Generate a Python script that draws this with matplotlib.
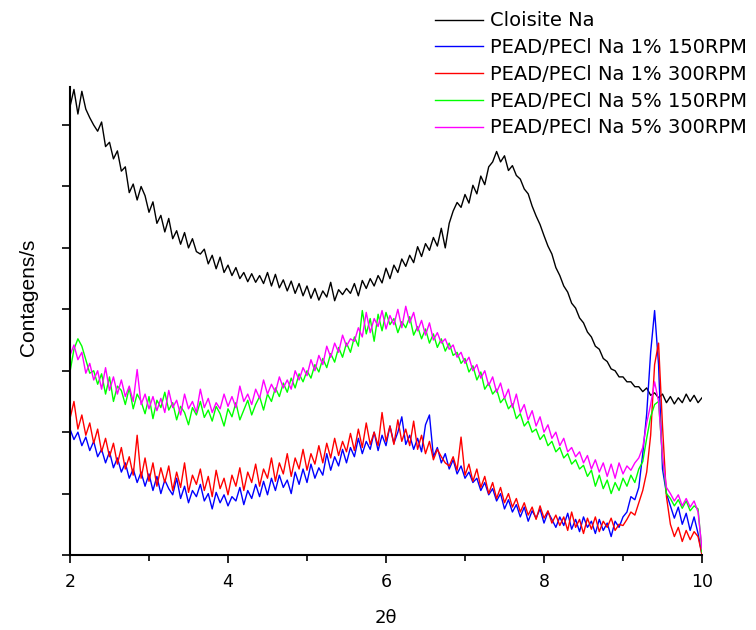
import matplotlib
matplotlib.use('Agg')
import matplotlib.pyplot as plt
import numpy as np

# 2-theta grid (step 0.05) and counts
two_theta = np.round(np.linspace(2, 10, 161), 2)

cloisite_na = [
    730, 758, 718, 755, 726, 712, 700, 690, 705, 665,
    672, 645, 658, 625, 632, 590, 604, 578, 600, 585,
    558, 575, 540, 553, 526, 548, 515, 528, 506, 525,
    500, 515, 494, 490, 498, 474, 488, 466, 485, 460,
    472, 455, 468, 450, 460, 445, 458, 444, 455, 442,
    460, 438, 457, 435, 448, 430, 446, 426, 442, 422,
    438, 418, 434, 415, 430, 420, 444, 414, 432, 424,
    434, 426, 442, 422, 447, 434, 450, 438, 455, 443,
    467, 450, 472, 460, 482, 470, 488, 476, 502, 486,
    507, 496, 517, 503, 532, 500, 540, 560, 574, 566,
    587, 573, 602, 588, 617, 603, 632, 640, 657, 640,
    650, 626, 634, 618, 612, 596, 588, 568, 552, 538,
    520, 503, 490, 468, 455, 438, 428, 410, 402, 386,
    378, 363, 355, 340, 335, 320, 315, 303, 300, 290,
    290, 282, 282, 274, 274, 266, 272, 260, 264, 256,
    262, 248, 258, 246, 256, 248, 262, 250, 260, 248,
    256]

pead_1_150 = [
    205, 188, 200, 178, 192, 170, 185, 160, 172, 150,
    168, 142, 158, 135, 150, 125, 140, 118, 135, 112,
    132, 105, 128, 100, 122, 108, 98, 125, 92, 112,
    85, 105, 95, 115, 88, 100, 75, 102, 85, 98,
    80, 95, 88, 110, 82, 105, 92, 115, 95, 120,
    98, 125, 105, 130, 110, 122, 100, 135, 115, 140,
    118, 148, 125, 142, 130, 165, 138, 160, 145, 172,
    150, 175, 160, 190, 165, 185, 172, 200, 170, 195,
    178, 210, 182, 200, 225, 180, 195, 172, 190, 168,
    212, 228, 160, 175, 150, 165, 140, 155, 132, 145,
    125, 135, 118, 125, 105, 118, 98, 108, 88, 100,
    75, 90, 70, 82, 62, 78, 55, 72, 60, 75,
    52, 70, 58, 45, 62, 48, 68, 42, 58, 38,
    62, 45, 55, 35, 58, 40, 52, 30, 55, 45,
    62, 70, 95, 90, 110, 165, 230, 330, 398, 310,
    140, 100, 80, 60, 78, 50, 68, 40, 62, 35,
    0]

pead_1_300 = [
    222, 250, 205, 228, 195, 215, 182, 205, 168, 190,
    160, 182, 148, 175, 140, 160, 130, 195, 125, 158,
    120, 150, 112, 142, 118, 145, 105, 135, 110, 150,
    102, 130, 115, 140, 105, 128, 95, 138, 108, 125,
    98, 130, 112, 142, 105, 135, 118, 148, 112, 140,
    125, 158, 120, 150, 132, 165, 128, 158, 140, 172,
    138, 165, 148, 178, 150, 182, 158, 190, 162, 185,
    168, 198, 170, 205, 175, 215, 180, 200, 178, 232,
    185, 210, 180, 220, 185, 205, 178, 218, 172, 195,
    165, 185, 155, 172, 160, 150, 145, 160, 138, 192,
    130, 148, 120, 140, 110, 128, 100, 118, 92, 110,
    85, 100, 78, 92, 70, 85, 65, 78, 58, 80,
    60, 72, 52, 65, 48, 62, 40, 70, 45, 58,
    35, 60, 42, 62, 38, 55, 45, 60, 40, 50,
    48, 58, 70, 65, 85, 105, 135, 195, 310, 345,
    210, 95, 50, 30, 45, 22, 40, 25, 38, 30,
    0]

pead_5_150 = [
    298, 335, 352, 340, 318, 296, 300, 278, 295, 262,
    290, 250, 275, 268, 245, 272, 238, 262, 250, 230,
    258, 222, 252, 240, 265, 236, 248, 220, 242, 232,
    212, 240, 228, 250, 224, 236, 218, 242, 230, 210,
    238, 225, 248, 220, 236, 252, 228, 245, 258, 236,
    262, 250, 272, 258, 280, 265, 288, 272, 295, 282,
    300, 288, 310, 298, 320, 305, 328, 314, 338, 322,
    345, 330, 355, 340, 398, 360, 385, 348, 392, 365,
    395, 375, 385, 362, 380, 370, 388, 358, 372, 352,
    368, 345, 360, 338, 352, 332, 345, 325, 330, 312,
    320, 298, 308, 285, 298, 270, 280, 262, 270, 248,
    256, 238, 246, 222, 230, 210, 218, 200, 205, 188,
    196, 178, 185, 168, 175, 158, 165, 148, 155, 140,
    146, 128, 138, 112, 130, 108, 122, 100, 118, 105,
    125, 112, 130, 118, 140, 152, 190, 225, 245, 250,
    160, 100, 92, 80, 90, 76, 88, 72, 80, 75,
    5]

pead_5_300 = [
    325, 342, 318, 330, 296, 312, 285, 300, 270, 305,
    268, 290, 262, 285, 258, 275, 250, 302, 245, 262,
    238, 258, 235, 255, 232, 268, 240, 252, 228, 262,
    238, 250, 232, 270, 240, 255, 232, 248, 238, 262,
    242, 258, 240, 275, 250, 262, 245, 270, 255, 285,
    262, 278, 265, 290, 272, 285, 270, 300, 285, 305,
    292, 318, 300, 325, 310, 340, 322, 345, 330, 358,
    340, 352, 348, 370, 355, 395, 362, 385, 372, 398,
    368, 390, 375, 400, 370, 405, 378, 395, 365, 382,
    358, 378, 350, 362, 345, 352, 335, 342, 322, 330,
    312, 322, 300, 310, 288, 300, 276, 290, 265, 280,
    255, 270, 240, 262, 232, 245, 220, 235, 210, 225,
    200, 212, 190, 200, 178, 190, 168, 175, 160, 168,
    150, 162, 140, 155, 135, 150, 128, 148, 125, 150,
    132, 145, 138, 150, 158, 175, 215, 245, 282, 250,
    160, 110, 100, 88, 98, 80, 92, 78, 88, 70,
    10]

labels = ['Cloisite Na', 'PEAD/PECl Na 1% 150RPM', 'PEAD/PECl Na 1% 300RPM',
          'PEAD/PECl Na 5% 150RPM', 'PEAD/PECl Na 5% 300RPM']
colors = ['#000000', '#0000ff', '#ff0000', '#00ff00', '#ff00ff']
series = [cloisite_na, pead_1_150, pead_1_300, pead_5_150, pead_5_300]

fig = plt.figure(figsize=(7.56, 6.3), dpi=100)
ax = fig.add_axes([70 / 756, 75 / 630, 632 / 756, 468 / 630])

for ys, c, lab in zip(series, colors, labels):
    ax.plot(two_theta, ys, color=c, linewidth=1.0, label=lab)

ax.set_xlim(2, 10)
ax.set_ylim(0, 762)
ax.set_xticks([2, 4, 6, 8, 10])
ax.set_xticks([3, 5, 7, 9], minor=True)
ax.set_yticks(np.arange(0, 701, 100))
ax.set_yticklabels([])

for s in ['top', 'right']:
    ax.spines[s].set_visible(False)
for s in ['left', 'bottom']:
    ax.spines[s].set_linewidth(1.5)

ax.tick_params(axis='x', which='major', length=6, width=1.2, pad=7, labelsize=12.5)
ax.tick_params(axis='x', which='minor', length=4, width=1.2)
ax.tick_params(axis='y', which='major', length=6, width=1.2)

ax.set_ylabel('Contagens/s', family='Liberation Sans', fontsize=15)
ax.yaxis.set_label_coords(-0.05, 0.55)
ax.set_xlabel('2θ', fontsize=13)
ax.xaxis.set_label_coords(0.5, -0.115)

fig.legend(loc='upper left', bbox_to_anchor=(435 / 756, 0.982), frameon=False,
           fontsize=14, borderpad=0, borderaxespad=0, labelspacing=0.4,
           handlelength=2.45, handletextpad=0.38)

fig.savefig('out.png', dpi=100)
